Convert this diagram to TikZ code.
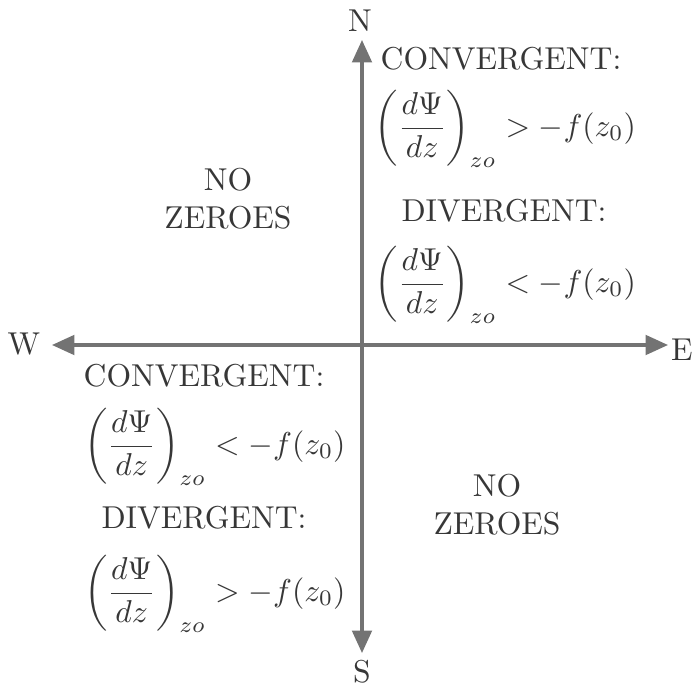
\documentclass[tikz,border=0pt]{standalone}
\usepackage{amsmath}
\usetikzlibrary{arrows.meta}
\definecolor{axisc}{RGB}{115,115,115}
\definecolor{inkc}{RGB}{55,55,55}

\begin{document}
\begin{tikzpicture}[
    axis/.style={axisc,line width=2.2pt,{Triangle[length=16pt,width=14pt]}-{Triangle[length=16pt,width=14pt]}},
    lab/.style={inkc,scale=2.25,inner sep=0pt},
  ]
  % frame
  \useasboundingbox (-9.05,-8.575) rectangle (8.275,8.625);
  % compass points
  \node[lab] (n) at (-0.05,8.1) {N};
  \node[lab] (s) at (0,-8.175) {S};
  \node[lab] (w) at (-8.45,0.025) {W};
  \node[lab] (e) at (8.0,-0.125) {E};
  % axes
  \coordinate (ntip) at (0,7.625);
  \coordinate (stip) at (0,-7.7);
  \coordinate (wtip) at (-7.75,0);
  \coordinate (etip) at (7.65,0);
  \draw[axis] (stip) -- (ntip);
  \draw[axis] (wtip) -- (etip);
  % upper right quadrant
  \node[lab] (conv1) at (3.475,7.15) {CONVERGENT:};
  \node[lab] (ineq1) at (3.58,5.4) {$\left(\dfrac{d\Psi}{dz}\right)_{zo} > -f(z_0)$};
  \node[lab] (div1) at (3.55,3.35) {DIVERGENT:};
  \node[lab] (ineq2) at (3.58,1.5) {$\left(\dfrac{d\Psi}{dz}\right)_{zo} < -f(z_0)$};
  % lower left quadrant
  \node[lab] (conv2) at (-3.95,-0.77) {CONVERGENT:};
  \node[lab] (ineq3) at (-3.68,-2.55) {$\left(\dfrac{d\Psi}{dz}\right)_{zo} < -f(z_0)$};
  \node[lab] (div2) at (-3.95,-4.325) {DIVERGENT:};
  \node[lab] (ineq4) at (-3.68,-6.225) {$\left(\dfrac{d\Psi}{dz}\right)_{zo} > -f(z_0)$};
  % no zeroes
  \node[lab,align=center] (nz1) at (-3.35,3.65) {NO\\ZEROES};
  \node[lab,align=center] (nz2) at (3.375,-4.0) {NO\\ZEROES};
\end{tikzpicture}
\end{document}
